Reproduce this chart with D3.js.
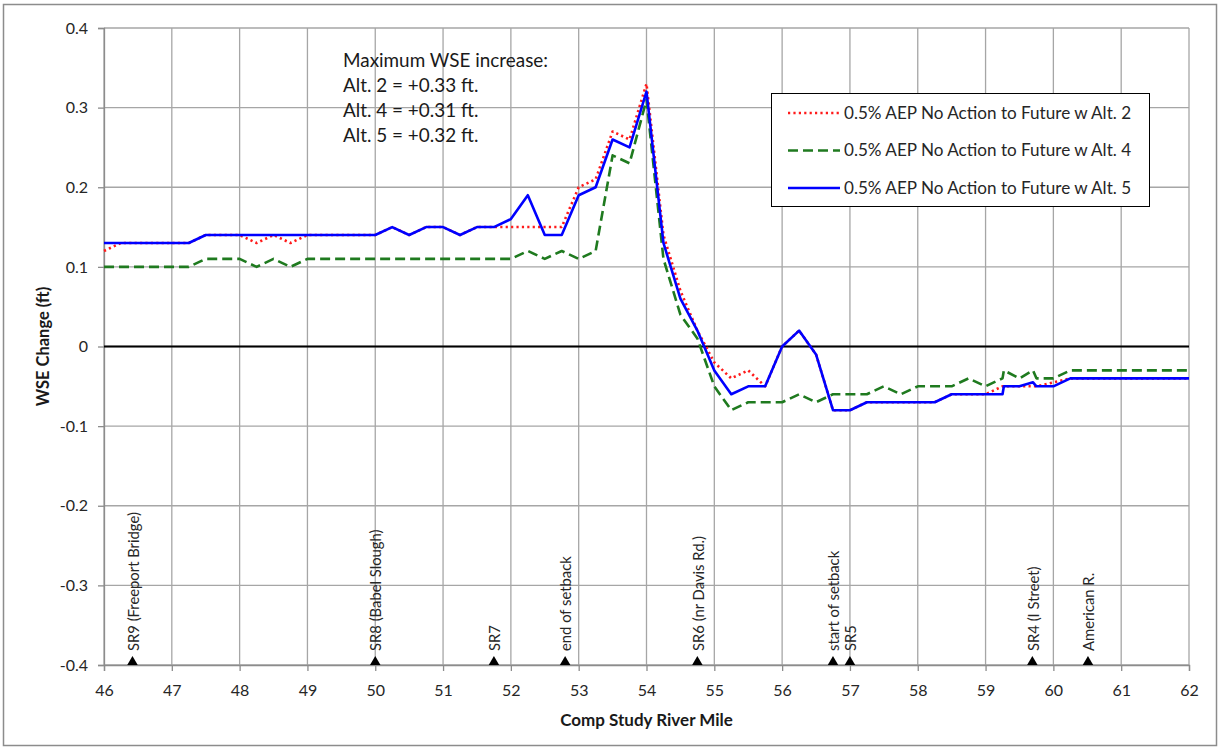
<!DOCTYPE html>
<html>
<head>
<meta charset="utf-8">
<script src="https://cdn.jsdelivr.net/npm/d3@7"></script>
<style>
  html, body { margin: 0; padding: 0; background: #fff; }
  svg { display: block; font-family: Lato, "Open Sans", sans-serif; }
</style>
</head>
<body>
<svg id="chart" width="1220" height="750"></svg>
<script>
// ---------------- DATA ----------------
const miles = [46,46.25,46.5,46.75,47,47.25,47.5,47.75,48,48.25,48.5,48.75,49,49.25,49.5,49.75,
  50,50.25,50.5,50.75,51,51.25,51.5,51.75,52,52.25,52.5,52.75,53,53.25,53.5,53.75,
  54,54.25,54.5,54.75,55,55.25,55.5,55.75,56,56.25,56.5,56.75,57,57.25,57.5,57.75,
  58,58.25,58.5,58.75,59,59.25,59.27,59.5,59.7,59.75,60,60.25,60.5,60.75,61,61.25,61.5,61.75,62];

// 0.5% AEP No Action to Future w Alt. 2
const alt2 = [0.12,0.13,0.13,0.13,0.13,0.13,0.14,0.14,0.14,0.13,0.14,0.13,0.14,0.14,0.14,0.14,
  0.14,0.15,0.14,0.15,0.15,0.14,0.15,0.15,0.15,0.15,0.15,0.15,0.20,0.21,0.27,0.26,
  0.33,0.14,0.07,0.02,-0.02,-0.04,-0.03,-0.05,0.00,0.02,-0.01,-0.08,-0.08,-0.07,-0.07,-0.07,
  -0.07,-0.07,-0.06,-0.06,-0.06,-0.05,-0.05,-0.05,-0.05,-0.05,-0.045,-0.04,-0.04,-0.04,-0.04,-0.04,-0.04,-0.04,-0.04];

// 0.5% AEP No Action to Future w Alt. 4
const alt4 = [0.10,0.10,0.10,0.10,0.10,0.10,0.11,0.11,0.11,0.10,0.11,0.10,0.11,0.11,0.11,0.11,
  0.11,0.11,0.11,0.11,0.11,0.11,0.11,0.11,0.11,0.12,0.11,0.12,0.11,0.12,0.24,0.23,
  0.31,0.11,0.04,0.01,-0.05,-0.08,-0.07,-0.07,-0.07,-0.06,-0.07,-0.06,-0.06,-0.06,-0.05,-0.06,
  -0.05,-0.05,-0.05,-0.04,-0.05,-0.04,-0.03,-0.04,-0.03,-0.04,-0.04,-0.03,-0.03,-0.03,-0.03,-0.03,-0.03,-0.03,-0.03];

// 0.5% AEP No Action to Future w Alt. 5
const alt5 = [0.13,0.13,0.13,0.13,0.13,0.13,0.14,0.14,0.14,0.14,0.14,0.14,0.14,0.14,0.14,0.14,
  0.14,0.15,0.14,0.15,0.15,0.14,0.15,0.15,0.16,0.19,0.14,0.14,0.19,0.20,0.26,0.25,
  0.32,0.13,0.06,0.02,-0.03,-0.06,-0.05,-0.05,0.00,0.02,-0.01,-0.08,-0.08,-0.07,-0.07,-0.07,
  -0.07,-0.07,-0.06,-0.06,-0.06,-0.06,-0.05,-0.05,-0.045,-0.05,-0.05,-0.04,-0.04,-0.04,-0.04,-0.04,-0.04,-0.04,-0.04];

const seriesNames = ["0.5% AEP No Action to Future w Alt. 2",
                     "0.5% AEP No Action to Future w Alt. 4",
                     "0.5% AEP No Action to Future w Alt. 5"];

const siteLabels = ["SR9 (Freeport Bridge)","SR8 (Babel Slough)","SR7","end of setback",
  "SR6 (nr Davis Rd.)","start of setback","SR5","SR4 (I Street)","American R."];
const siteMiles = [46.42,50.0,51.75,52.8,54.75,56.75,57.0,59.69,60.51];

const xTicks = [46,47,48,49,50,51,52,53,54,55,56,57,58,59,60,61,62];
const yTicks = [-0.4,-0.3,-0.2,-0.1,0,0.1,0.2,0.3,0.4];

const noteLines = ["Maximum WSE increase:","Alt. 2 = +0.33 ft.","Alt. 4 = +0.31 ft.","Alt. 5 = +0.32 ft."];

// ---------------- LAYOUT ----------------
const svg = d3.select("#chart");
const L = 104, R = 1189, T = 28, B = 665;

const x = d3.scaleLinear().domain([46, 62]).range([L, R]);
const y = d3.scaleLinear().domain([-0.4, 0.4]).range([B, T]);

// outer chart border
svg.append("rect").attr("x", 3.5).attr("y", 4.5).attr("width", 1213).attr("height", 741)
  .attr("fill", "#fff").attr("stroke", "#8c8c8c").attr("stroke-width", 1.5);

// gridlines
const grid = svg.append("g");
grid.selectAll(".vg").data(xTicks).join("line")
  .attr("x1", d => x(d)).attr("x2", d => x(d)).attr("y1", T).attr("y2", B)
  .attr("stroke", "#a6a6a6").attr("stroke-width", 1.3);
grid.selectAll(".hg").data(yTicks).join("line")
  .attr("x1", L).attr("x2", R).attr("y1", d => y(d)).attr("y2", d => y(d))
  .attr("stroke", "#a6a6a6").attr("stroke-width", 1.3);

// axes
const yFmt = d => d === 0 ? "0" : d3.format(".1f")(d).replace("\u2212", "-");
const yAxis = svg.append("g").attr("transform", `translate(${L},0)`)
  .call(d3.axisLeft(y).tickValues(yTicks).tickSize(6).tickPadding(10).tickFormat(yFmt));
const xAxis = svg.append("g").attr("transform", `translate(0,${B})`)
  .call(d3.axisBottom(x).tickValues(xTicks).tickSize(6).tickPadding(14).tickFormat(d3.format("d")));
[yAxis, xAxis].forEach(g => {
  g.select(".domain").attr("stroke", "#8c8c8c").attr("stroke-width", 1.3);
  g.selectAll(".tick line").attr("stroke", "#8c8c8c").attr("stroke-width", 1.3);
  g.selectAll(".tick text").attr("fill", "#262626").style("font-size", "16px")
    .style("font-family", "Lato, sans-serif");
});

// zero line
svg.append("line").attr("x1", L).attr("x2", R).attr("y1", y(0)).attr("y2", y(0))
  .attr("stroke", "#000").attr("stroke-width", 1.8);

// axis titles
svg.append("text").attr("x", x(54)).attr("y", 726).attr("text-anchor", "middle")
  .style("font-weight", "bold").style("font-size", "17px").attr("fill", "#1a1a1a")
  .text("Comp Study River Mile");
svg.append("text").attr("transform", `translate(49,${y(0)}) rotate(-90)`).attr("text-anchor", "middle")
  .style("font-weight", "bold").style("font-size", "16.5px").attr("fill", "#1a1a1a")
  .text("WSE Change (ft)");

// site markers
const sites = svg.append("g");
siteMiles.forEach((m, i) => {
  sites.append("path").attr("d", d3.symbol(d3.symbolTriangle, 48)())
    .attr("transform", `translate(${x(m)},${y(-0.4) - 3})`).attr("fill", "#000");
  sites.append("text").attr("transform", `translate(${x(m) + 1},651) rotate(-90)`)
    .attr("dy", "0.35em").style("font-size", "14.8px").attr("fill", "#262626")
    .text(siteLabels[i]);
});

// series
const styles = [
  { data: alt2, color: "#ff1a1a", width: 2.6, dash: "2.2,3.2" },
  { data: alt4, color: "#1f7a1f", width: 2.6, dash: "10,5" },
  { data: alt5, color: "#0000ff", width: 2.6, dash: null }
];
const line = d3.line().x(d => x(d[0])).y(d => y(d[1]));
styles.forEach(s => {
  svg.append("path").datum(miles.map((m, i) => [m, s.data[i]]))
    .attr("d", line).attr("fill", "none").attr("stroke", s.color)
    .attr("stroke-width", s.width).attr("stroke-dasharray", s.dash)
    .attr("stroke-linejoin", "round");
});

// annotation
const note = svg.append("text").attr("x", 343).attr("y", 66)
  .style("font-size", "18.9px").attr("fill", "#1a1a1a");
noteLines.forEach((t, i) => note.append("tspan").attr("x", 343).attr("y", 67 + i * 25).text(t));

// legend
const lg = svg.append("g");
lg.append("rect").attr("x", 771.5).attr("y", 93.5).attr("width", 378).attr("height", 113)
  .attr("fill", "#fff").attr("stroke", "#000").attr("stroke-width", 1);
styles.forEach((s, i) => {
  const yy = 113 + i * 37.5;
  lg.append("line").attr("x1", 788).attr("x2", 840).attr("y1", yy).attr("y2", yy)
    .attr("stroke", s.color).attr("stroke-width", s.width).attr("stroke-dasharray", s.dash);
  lg.append("text").attr("x", 844).attr("y", yy).attr("dy", "0.35em")
    .style("font-size", "17.1px").attr("fill", "#262626").text(seriesNames[i]);
});
</script>
</body>
</html>
